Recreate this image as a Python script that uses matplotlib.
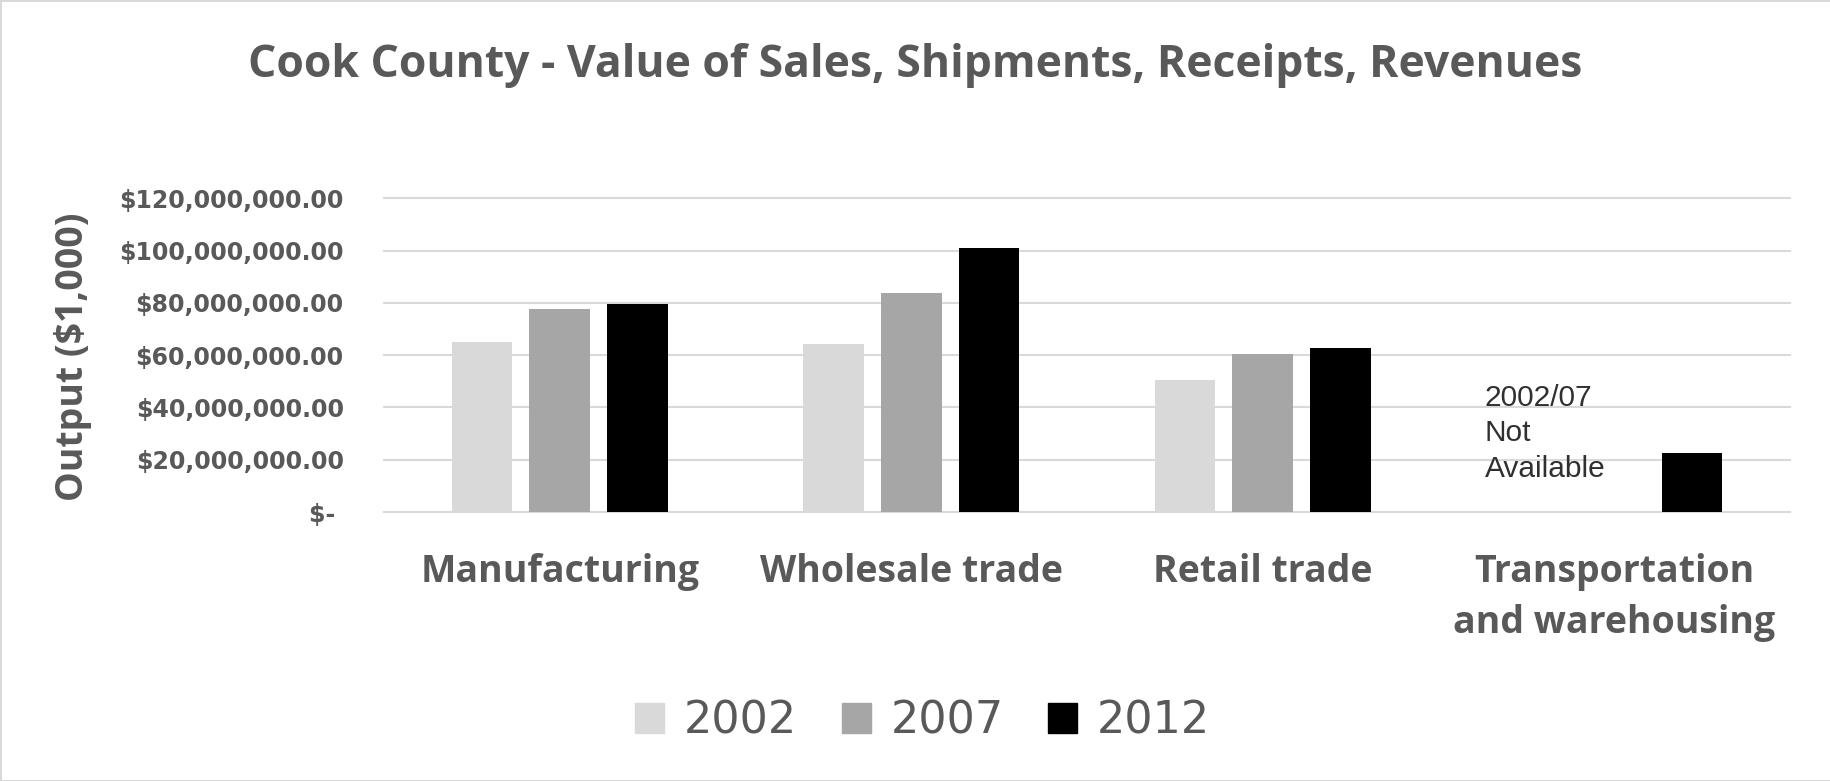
import numpy as np
import matplotlib
matplotlib.use("Agg")
import matplotlib.pyplot as plt
from matplotlib.patches import Patch

# ── Datos ────────────────────────────────────────────────────────────────
categories = ["Manufacturing", "Wholesale trade", "Retail trade",
              "Transportation\nand warehousing"]
years = ["2002", "2007", "2012"]
sales_2002 = [65.2e6, 64.3e6, 50.4e6, np.nan]
sales_2007 = [77.7e6, 83.9e6, 60.6e6, np.nan]
sales_2012 = [79.5e6, 100.9e6, 62.8e6, 22.7e6]
yticks = [0, 20e6, 40e6, 60e6, 80e6, 100e6, 120e6]
ytick_labels = ["$- ", "$20,000,000.00", "$40,000,000.00", "$60,000,000.00",
                "$80,000,000.00", "$100,000,000.00", "$120,000,000.00"]

colors = ["#d9d9d9", "#a6a6a6", "#000000"]
text_gray = "#595959"

fig = plt.figure(figsize=(18.31, 7.81), dpi=100)
fig.patch.set_edgecolor("#d9d9d9")
fig.patch.set_linewidth(2)
ax = fig.add_axes([0.2097, 0.3444, 0.7679, 0.4017])

x = np.arange(len(categories))
width = 0.1727
step = 0.221
for i, (vals, c, yr) in enumerate(zip([sales_2002, sales_2007, sales_2012], colors, years)):
    ax.bar(x + (i - 1) * step, vals, width=width, color=c, label=yr, zorder=3)

ax.set_xlim(-0.5, len(categories) - 0.5)
ax.set_ylim(0, 120e6)
ax.set_yticks(yticks)
ax.set_yticklabels(ytick_labels, fontsize=17, fontweight="bold",
                   color=text_gray, family="DejaVu Sans")
ax.set_xticks(x)
ax.set_xticklabels(categories, fontsize=27, fontweight="bold",
                   color=text_gray, family="Open Sans", linespacing=1.45)
ax.tick_params(axis="y", length=0, pad=29)
ax.tick_params(axis="x", length=0, pad=29.5)
for s in ax.spines.values():
    s.set_visible(False)
ax.grid(axis="y", color="#d9d9d9", linewidth=1.5, zorder=0)
for gl in ax.get_ygridlines():
    gl.set_clip_on(False)

# Nota para transporte
ax.text(2.632, 30.2e6, "2002/07\nNot\nAvailable", ha="left", va="center",
        fontsize=21.5, family="Liberation Sans", color="#303030", linespacing=1.34)

fig.text(0.5, 0.916, "Cook County - Value of Sales, Shipments, Receipts, Revenues",
         ha="center", va="center", fontsize=32, fontweight="bold",
         color=text_gray, family="Open Sans")
fig.text(0.040, 0.543, "Output ($1,000)", ha="center", va="center",
         rotation=90, fontsize=27, fontweight="bold", color=text_gray,
         family="Open Sans")

handles = [Patch(color=c, label=yr) for c, yr in zip(colors, years)]
leg = fig.legend(handles=handles, loc="center", bbox_to_anchor=(0.504, 0.077),
                 ncol=3, frameon=False, handlelength=0.65, handleheight=0.65,
                 handletextpad=0.45, columnspacing=1.0,
                 prop={"family": "DejaVu Sans", "size": 32})
for t in leg.get_texts():
    t.set_color(text_gray)

plt.savefig("out.png", dpi=100)
plt.close()
